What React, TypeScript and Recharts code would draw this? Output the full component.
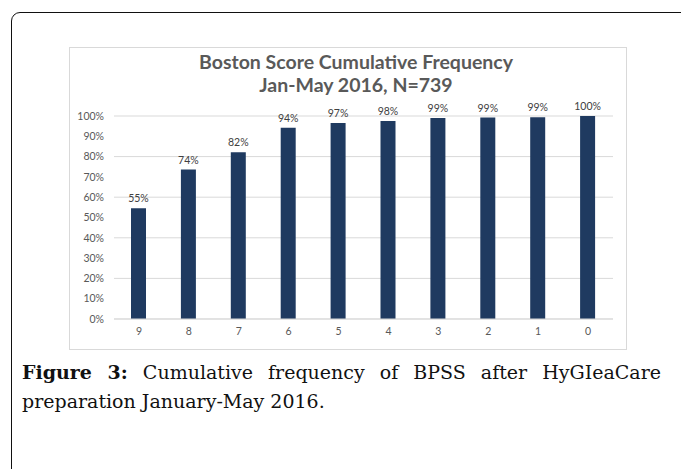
import { BarChart, Bar, XAxis, YAxis, CartesianGrid, LabelList } from 'recharts'

const scores = ['9', '8', '7', '6', '5', '4', '3', '2', '1', '0']
const cumulative = [54.6, 73.6, 82.2, 94.2, 96.6, 97.5, 99.0, 99.2, 99.4, 100]
const yTicks = [0, 10, 20, 30, 40, 50, 60, 70, 80, 90, 100]

const titleLines = ['Boston Score Cumulative Frequency', 'Jan-May 2016, N=739']

const chartData = scores.map((score, i) => ({ score, value: cumulative[i] }))

const axisFont = { fontFamily: 'Lato, sans-serif', fontSize: 10.5, fill: '#595959' }

export default function App() {
  return (
    <div
      style={{
        position: 'absolute',
        left: 0,
        top: 0,
        width: 681,
        height: 469,
        background: '#fff',
        overflow: 'hidden',
      }}
    >
      {/* outer figure frame */}
      <div
        style={{
          position: 'absolute',
          left: 11,
          top: 12,
          width: 720,
          height: 520,
          border: '1.5px solid #111',
          borderRadius: 9,
        }}
      />

      {/* chart box */}
      <div
        style={{
          position: 'absolute',
          left: 69,
          top: 47,
          width: 556,
          height: 301,
          border: '1px solid #d9d9d9',
          background: '#fff',
        }}
      >
        <BarChart
          width={556}
          height={301}
          data={chartData}
          margin={{ top: 68, right: 13, bottom: 0, left: 0 }}
        >
          <CartesianGrid vertical={false} stroke="#d9d9d9" />
          <XAxis
            dataKey="score"
            height={30}
            tickLine={false}
            tickSize={0}
            tickMargin={9}
            axisLine={{ stroke: '#d9d9d9' }}
            tick={axisFont}
            interval={0}
          />
          <YAxis
            width={44}
            domain={[0, 100]}
            ticks={yTicks}
            tickLine={false}
            tickSize={0}
            tickMargin={10}
            axisLine={false}
            tick={axisFont}
            tickFormatter={(v) => `${v}%`}
          />
          <Bar dataKey="value" fill="#1f3a60" barSize={15} isAnimationActive={false}>
            <LabelList
              dataKey="value"
              position="top"
              offset={6}
              formatter={(v: number) => `${Math.round(v)}%`}
              style={{ fontFamily: 'Lato, sans-serif', fontSize: 10.5, fill: '#404040' }}
            />
          </Bar>
        </BarChart>

        <div
          style={{
            position: 'absolute',
            left: 0,
            top: 2,
            width: 572,
            textAlign: 'center',
            fontFamily: 'Lato, sans-serif',
            fontWeight: 'bold',
            fontSize: 19.5,
            lineHeight: '23px',
            color: '#595959',
          }}
        >
          {titleLines.map((t) => (
            <div key={t}>{t}</div>
          ))}
        </div>
      </div>

      {/* caption */}
      <div
        style={{
          position: 'absolute',
          left: 22,
          top: 358,
          width: 639,
          fontFamily: '"DejaVu Serif", serif',
          fontSize: 19,
          lineHeight: '29px',
          color: '#111',
        }}
      >
        <div style={{ textAlign: 'justify', textAlignLast: 'justify' }}>
          <b>Figure 3:</b> Cumulative frequency of BPSS after HyGIeaCare
        </div>
        <div>preparation January-May 2016.</div>
      </div>
    </div>
  )
}
